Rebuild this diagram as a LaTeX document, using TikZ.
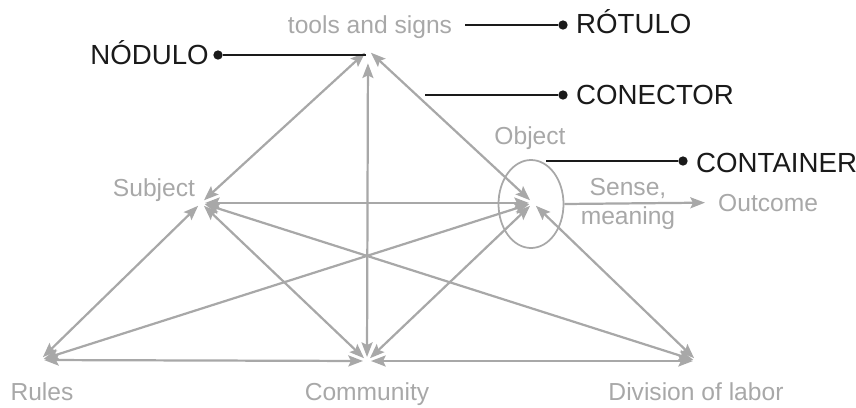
\documentclass[tikz,border=0pt]{standalone}
\usepackage{fontspec}
\setmainfont{Liberation Sans}
\usetikzlibrary{arrows.meta,positioning,calc,shapes.geometric}
\definecolor{ash}{HTML}{A8A8A8}
\definecolor{ink}{HTML}{1A1A1A}

\begin{document}
\begin{tikzpicture}[
  x=0.03cm, y=-0.03cm,
  lab/.style    ={text=ash, font=\fontsize{21}{24}\selectfont, inner sep=0pt, align=center},
  callout/.style={text=ink, font=\fontsize{23.6}{26}\selectfont, inner sep=0pt},
  link/.style   ={draw=ash, line width=1.9pt, shorten <=0.12cm, shorten >=0.12cm,
                  {Stealth[length=4.4mm,width=3.3mm,inset=0.8mm]}-{Stealth[length=4.4mm,width=3.3mm,inset=0.8mm]}},
  flow/.style   ={draw=ash, line width=1.9pt, shorten >=0.39cm,
                  -{Stealth[length=4.4mm,width=3.3mm,inset=0.8mm]}},
  lead/.style   ={draw=ink, line width=1.5pt},
  bullet/.style ={circle, fill=ink, inner sep=0pt, minimum size=2.8mm}
]
\useasboundingbox (0,0) rectangle (856,407);

% triangle corners
\coordinate (tools) at (368,50);
\coordinate (subj)  at (201,203);
\coordinate (obj)   at (533,203);
\coordinate (rules) at (40,360);
\coordinate (comm)  at (367,361);
\coordinate (div)   at (697,361);

% labels
\node[lab, anchor=base] (toolslab) at (370,33)  {tools and signs};
\node[lab, anchor=base] (subjlab)  at (154,196) {Subject};
\node[lab, anchor=base] (objlab)   at (530,144) {Object};
\node[lab, anchor=base] (ruleslab) at (42,400)  {Rules};
\node[lab, anchor=base] (commlab)  at (367,400) {Community};
\node[lab, anchor=base] (divlab)   at (696,400) {Division of labor};
\node[lab] (sense) at (628,204) {Sense,\\meaning};
\node[lab, anchor=base west] (outc) at (718,211) {Outcome};

\node[draw=ash, line width=1.5pt, ellipse, minimum width=65*0.03cm,
      minimum height=88*0.03cm, inner sep=0pt] (cont) at (531,204) {};

% connectors
\draw[link] (tools) -- (subj);
\draw[link, shorten >=0.4cm] (comm) -- (tools);
\draw[link] (tools) -- (obj);
\draw[link] (subj) -- (obj);
\draw[link] (subj) -- (rules);
\draw[link] (subj) -- (comm);
\draw[link] (subj) -- (div);
\draw[link] (obj) -- (rules);
\draw[link] (obj) -- (comm);
\draw[link] (obj) -- (div);
\draw[link] (rules) -- (comm);
\draw[link] (div) -- (comm);
\draw[flow] (cont.east) -- (outc.west);

% callouts
\coordinate (rotin) at (465,25);
\coordinate (nodin) at (366,55);
\coordinate (conin) at (425,95);
\coordinate (ctin)  at (546,161);

\node[bullet] (rotdot) at (563,25) {};
\node[bullet] (noddot) at (218,55) {};
\node[bullet] (condot) at (563,95) {};
\node[bullet] (ctdot)  at (683,161) {};

\node[callout, anchor=base west] (rot) at (576,33)  {RÓTULO};
\node[callout, anchor=base east] (nod) at (209,64)  {NÓDULO};
\node[callout, anchor=base west] (con) at (576,104) {CONECTOR};
\node[callout, anchor=base west] (ctn) at (696,172) {CONTAINER};

\draw[lead] (rotin) -- (rotdot);
\draw[lead] (noddot) -- (nodin);
\draw[lead] (conin) -- (condot);
\draw[lead] (ctin) -- (ctdot);
\end{tikzpicture}
\end{document}
